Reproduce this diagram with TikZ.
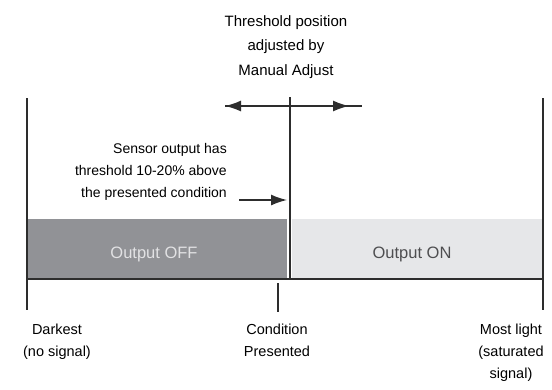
\documentclass[tikz,border=0pt]{standalone}
\usepackage{fontspec}
\setmainfont{Liberation Sans}
\usetikzlibrary{arrows.meta}
\definecolor{lin}{RGB}{45,45,45}
\definecolor{offfill}{RGB}{145,146,150}
\definecolor{onfill}{RGB}{230,231,233}
\definecolor{offtext}{RGB}{226,226,228}
\definecolor{ontext}{RGB}{78,78,80}
\begin{document}
\begin{tikzpicture}[x=1pt,y=-1pt,
  axis/.style={draw=lin,line width=1.4pt},
  arr/.style={-{Latex[length=16pt,width=11pt]}},
  lbl/.style={font=\fontsize{14.5}{22}\selectfont,inner sep=0pt,align=center},
  midlbl/.style={font=\fontsize{14}{22}\selectfont,inner sep=0pt,align=right},
  outlbl/.style={font=\fontsize{16.5}{20}\selectfont,inner sep=0pt,anchor=base},
  band/.style={inner sep=0pt,anchor=north west,minimum height=60pt}]
\useasboundingbox[fill=white] (0,0) rectangle (552,389);
% bands
\node[band,fill=offfill,minimum width=260pt] (off) at (27,219) {};
\node[band,fill=onfill,minimum width=251pt] (on) at (292,219) {};
\node[outlbl,text=offtext] (offlbl) at (154,258) {Output OFF};
\node[outlbl,text=ontext] (onlbl) at (412,258) {Output ON};
% coordinates
\coordinate (ltop) at (27,98);
\coordinate (lbot) at (27,310);
\coordinate (rtop) at (543,98);
\coordinate (rbot) at (543,310);
\coordinate (bl) at (27,279);
\coordinate (br) at (543,279);
\coordinate (thtop) at (290,97);
\coordinate (thbot) at (290,279);
\coordinate (ttop) at (278,283);
\coordinate (tbot) at (278,312);
\coordinate (amid) at (290,106);
\coordinate (al) at (225,106);
\coordinate (ar) at (349,106);
\coordinate (aend) at (362,106);
\coordinate (sa) at (239,200);
\coordinate (sb) at (287,200);
% axis lines
\draw[axis] (ltop) -- (lbot);
\draw[axis] (rtop) -- (rbot);
\draw[axis] (bl) -- (br);
\draw[axis] (thtop) -- (thbot);
\draw[axis] (ttop) -- (tbot);
% arrows
\draw[axis] (al) -- (aend);
\draw[axis,arr] (amid) -- (al);
\draw[axis,arr] (amid) -- (ar);
\draw[axis,arr] (sa) -- (sb);
% labels
\node[lbl,font=\fontsize{15}{24.5}\selectfont,anchor=north] (top) at (286,15)
  {Threshold position\\adjusted by\\Manual Adjust};
\node[midlbl,anchor=north east] (mid) at (227,143)
  {Sensor output has\\threshold 10-20\% above\\the presented condition};
\node[lbl,anchor=north] (dark) at (57,324) {Darkest\\(no signal)};
\node[lbl,anchor=north] (cond) at (277,324) {Condition\\Presented};
\node[lbl,anchor=north] (most) at (511,324) {Most light\\(saturated\\signal)};
\end{tikzpicture}
\end{document}
